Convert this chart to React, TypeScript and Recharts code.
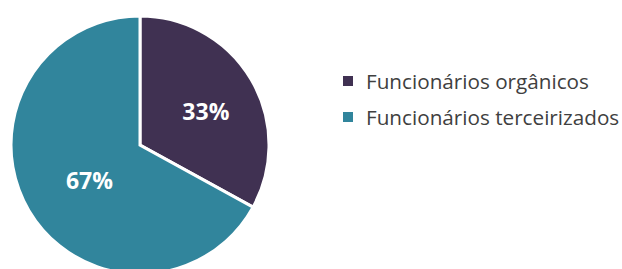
import React from "react";
import { PieChart, Pie, Cell, Legend } from "recharts";

const categories = ["Funcionários orgânicos", "Funcionários terceirizados"];
const values = [33, 67];
const colors = ["#403152", "#31859C"];

const data = categories.map((name, i) => ({ name, value: values[i] }));

const RADIAN = Math.PI / 180;
const labelRatio = [0.593, 0.455];

const renderLabel = (props: any) => {
  const { cx, cy, midAngle, outerRadius, index, percent } = props;
  const r = outerRadius * labelRatio[index];
  const x = cx + r * Math.cos(-midAngle * RADIAN);
  const y = cy + r * Math.sin(-midAngle * RADIAN);
  return (
    <text
      x={x}
      y={y}
      dy={5}
      fill="#FFFFFF"
      textAnchor="middle"
      dominantBaseline="central"
      fontFamily="'Open Sans', sans-serif"
      fontWeight={700}
      fontSize={23}
    >
      {`${Math.round(percent * 100)}%`}
    </text>
  );
};

const renderLegend = () => (
  <div style={{ fontFamily: "'Open Sans', sans-serif", fontSize: 20.7, color: "#404040" }}>
    {data.map((d, i) => (
      <div key={d.name} style={{ display: "flex", alignItems: "center", height: 36, lineHeight: "36px" }}>
        <span style={{ display: "inline-block", width: 10, height: 10, background: colors[i], marginRight: 13 }} />
        <span>{d.name}</span>
      </div>
    ))}
  </div>
);

export default function App() {
  return (
    <div style={{ position: "fixed", left: 0, top: 0, width: 622, height: 269, background: "#fff" }}>
      <PieChart width={622} height={269} margin={{ top: 0, right: 0, bottom: 0, left: 0 }}>
        <Pie
          data={data}
          dataKey="value"
          nameKey="name"
          cx={140}
          cy={145}
          outerRadius={129}
          startAngle={90}
          endAngle={-270}
          stroke="#FFFFFF"
          strokeWidth={3}
          label={renderLabel}
          labelLine={false}
          isAnimationActive={false}
        >
          {data.map((d, i) => (
            <Cell key={d.name} fill={colors[i]} />
          ))}
        </Pie>
        <Legend
          content={renderLegend}
          wrapperStyle={{ position: "absolute", left: 343, top: 63, width: 279, height: 72 }}
        />
      </PieChart>
    </div>
  );
}
